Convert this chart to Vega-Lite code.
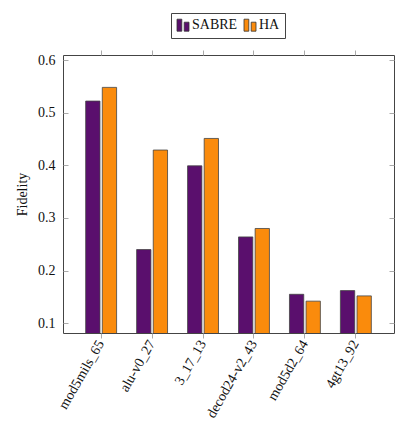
{
  "$schema": "https://vega.github.io/schema/vega-lite/v6.json",
  "autosize": "none",
  "width": 331,
  "height": 278,
  "padding": {"left": 63, "top": 55, "right": 15, "bottom": 108},
  "background": "white",
  "data": {"values": [
    {"circuit": "mod5mils_65", "method": "SABRE", "fidelity": 0.522},
    {"circuit": "mod5mils_65", "method": "HA", "fidelity": 0.548},
    {"circuit": "alu-v0_27", "method": "SABRE", "fidelity": 0.240},
    {"circuit": "alu-v0_27", "method": "HA", "fidelity": 0.429},
    {"circuit": "3_17_13", "method": "SABRE", "fidelity": 0.399},
    {"circuit": "3_17_13", "method": "HA", "fidelity": 0.451},
    {"circuit": "decod24-v2_43", "method": "SABRE", "fidelity": 0.264},
    {"circuit": "decod24-v2_43", "method": "HA", "fidelity": 0.280},
    {"circuit": "mod5d2_64", "method": "SABRE", "fidelity": 0.155},
    {"circuit": "mod5d2_64", "method": "HA", "fidelity": 0.142},
    {"circuit": "4gt13_92", "method": "SABRE", "fidelity": 0.162},
    {"circuit": "4gt13_92", "method": "HA", "fidelity": 0.152}
  ]},
  "config": {
    "view": {"stroke": "#444", "strokeWidth": 1},
    "axis": {
      "domain": false,
      "grid": false,
      "labelFont": "Liberation Serif",
      "labelFontSize": 14,
      "labelColor": "#111",
      "titleFont": "Liberation Serif",
      "titleFontSize": 14,
      "titleFontWeight": "normal",
      "titleColor": "#111",
      "tickColor": "#aaa",
      "tickWidth": 1
    }
  },
  "encoding": {
    "x": {
      "field": "circuit",
      "type": "nominal",
      "sort": null,
      "scale": {"paddingInner": 0.393, "paddingOuter": 0.445}
    },
    "xOffset": {
      "field": "method",
      "type": "nominal",
      "sort": ["SABRE", "HA"],
      "scale": {"domain": ["SABRE", "HA"], "paddingInner": 0.139, "paddingOuter": 0}
    },
    "y": {
      "field": "fidelity",
      "type": "quantitative",
      "scale": {"domain": [0.0815, 0.6095], "nice": false, "zero": false}
    }
  },
  "layer": [
    {
      "mark": {"type": "bar", "clip": true, "stroke": "#444", "strokeWidth": 0.8},
      "encoding": {
        "x": {
          "field": "circuit", "type": "nominal", "sort": null,
          "axis": {"orient": "bottom", "title": null, "labelAngle": -60, "labelAlign": "right", "labelBaseline": "middle", "tickSize": 5, "labelPadding": 3}
        },
        "y": {
          "field": "fidelity", "type": "quantitative",
          "axis": {"orient": "left", "title": "Fidelity", "values": [0.1, 0.2, 0.3, 0.4, 0.5, 0.6], "format": ".1f", "tickSize": -5, "labelPadding": 13, "titlePadding": 8}
        },
        "color": {
          "field": "method", "type": "nominal",
          "scale": {"domain": ["SABRE", "HA"], "range": ["#5a0f6d", "#fa8b0c"]},
          "legend": {
            "orient": "none", "legendX": 108, "legendY": -42,
            "direction": "horizontal", "title": null,
            "strokeColor": "#444", "fillColor": "white", "padding": 5,
            "symbolType": "M-1,-1H-0.2V1H-1Z M0.2,-0.5H1V1H0.2Z",
            "symbolSize": 144, "symbolStrokeColor": "#333", "symbolStrokeWidth": 0.8,
            "labelFont": "Liberation Serif", "labelFontSize": 14, "labelColor": "#111",
            "labelOffset": 2, "columnPadding": 4
          }
        }
      }
    },
    {
      "mark": {"type": "bar", "opacity": 0},
      "encoding": {
        "x": {
          "field": "circuit", "type": "nominal", "sort": null,
          "axis": {"orient": "top", "title": null, "labels": false, "tickSize": 5}
        },
        "y": {
          "field": "fidelity", "type": "quantitative",
          "axis": {"orient": "right", "title": null, "labels": false, "values": [0.1, 0.2, 0.3, 0.4, 0.5, 0.6], "tickSize": -5}
        }
      }
    }
  ],
  "resolve": {"axis": {"x": "independent", "y": "independent"}}
}
